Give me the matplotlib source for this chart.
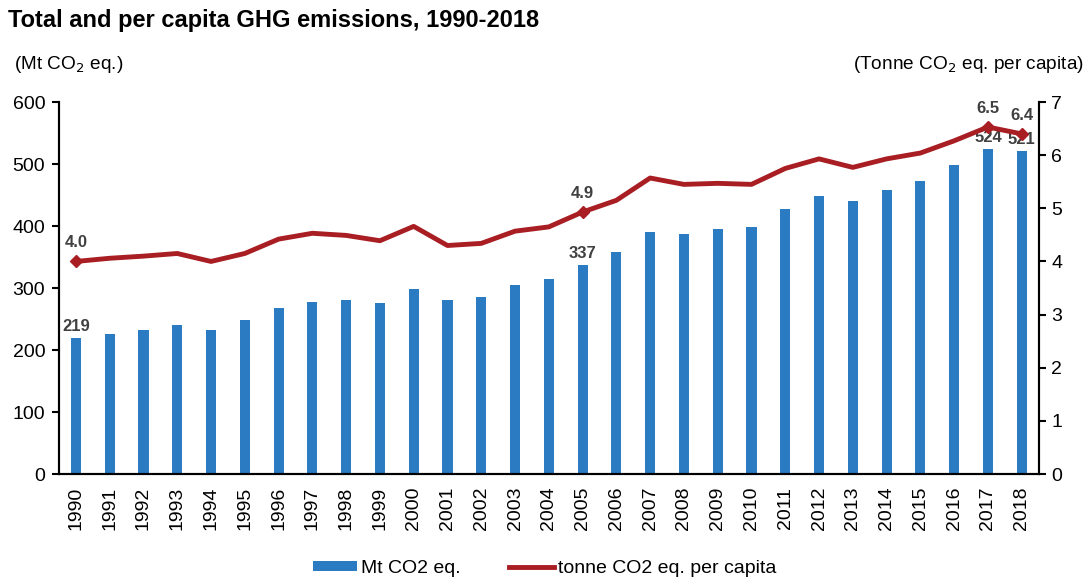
import numpy as np
import matplotlib.pyplot as plt

plt.rcParams['font.family'] = ['Liberation Sans', 'DejaVu Sans']

years = list(range(1990, 2019))
total_mt = [219, 226, 233, 240, 233, 248, 268, 278, 280, 276,
            298, 280, 285, 305, 315, 337, 358, 390, 387, 396,
            398, 428, 448, 440, 458, 473, 498, 524, 521]
per_capita = [4.0, 4.06, 4.1, 4.15, 4.0, 4.15, 4.42, 4.53, 4.49, 4.39,
              4.66, 4.3, 4.34, 4.57, 4.65, 4.93, 5.15, 5.57, 5.45, 5.47,
              5.45, 5.75, 5.93, 5.77, 5.93, 6.04, 6.27, 6.53, 6.4]
labelled = [1990, 2005, 2017, 2018]
bar_labels = ['219', '337', '524', '521']
line_labels = ['4.0', '4.9', '6.5', '6.4']

bar_color = '#2A7BC1'
line_color = '#A81E23'

fig = plt.figure(figsize=(10.89, 5.79), dpi=100)
ax = fig.add_axes([0.0542, 0.1813, 0.8995, 0.6425])
ax2 = ax.twinx()

x = np.arange(len(years))
ax.bar(x, total_mt, width=0.3, color=bar_color, label='Mt CO2 eq.', zorder=2)
ax2.plot(x, per_capita, color=line_color, lw=3.5, label='tonne CO2 eq. per capita', zorder=3)
idx = [years.index(y) for y in labelled]
ax2.plot(x[idx], [per_capita[i] for i in idx], 'D', color=line_color, ms=6, zorder=4)

for i, t in zip(idx, bar_labels):
    ax.annotate(t, (x[i], total_mt[i]), xytext=(0, 3), textcoords='offset points',
                ha='center', va='bottom', fontsize=12, fontweight='bold', color='#404040', zorder=5)
for i, t in zip(idx, line_labels):
    ax2.annotate(t, (x[i], per_capita[i]), xytext=(0, 8), textcoords='offset points',
                 ha='center', va='bottom', fontsize=12, fontweight='bold', color='#404040', zorder=5)

ax.set_xlim(-0.5, len(years) - 0.5)
ax.set_ylim(0, 600)
ax2.set_ylim(0, 7)
ax.set_yticks(range(0, 601, 100))
ax2.set_yticks(range(0, 8))
ax.set_xticks(x)
ax.set_xticklabels([str(y) for y in years], rotation=90, fontsize=14)
ax.tick_params(axis='x', length=0, pad=9)
ax.tick_params(axis='y', labelsize=14, length=5, width=1.5, direction='out', pad=5)
ax2.tick_params(axis='y', labelsize=14, length=5, width=1.5, direction='out', pad=4)

for a in (ax, ax2):
    a.spines['top'].set_visible(False)
    for s in ('left', 'right', 'bottom'):
        a.spines[s].set_linewidth(1.5)

fig.text(0.007, 0.965, 'Total and per capita GHG emissions, 1990-2018',
         fontsize=17, fontweight='bold', ha='left', va='center')
fig.text(0.013, 0.888, '(Mt CO$_2$ eq.)', fontsize=13.7, ha='left', va='center')
fig.text(0.995, 0.888, '(Tonne CO$_2$ eq. per capita)', fontsize=13.7, ha='right', va='center')

h1, l1 = ax.get_legend_handles_labels()
h2, l2 = ax2.get_legend_handles_labels()
fig.legend(h1 + h2, l1 + l2, loc='center', bbox_to_anchor=(0.5, 0.018), ncol=2,
           frameon=False, fontsize=14, handlelength=2.3, handleheight=0.4,
           handletextpad=0.2, columnspacing=2.5)

fig.savefig('out.png', dpi=100)
